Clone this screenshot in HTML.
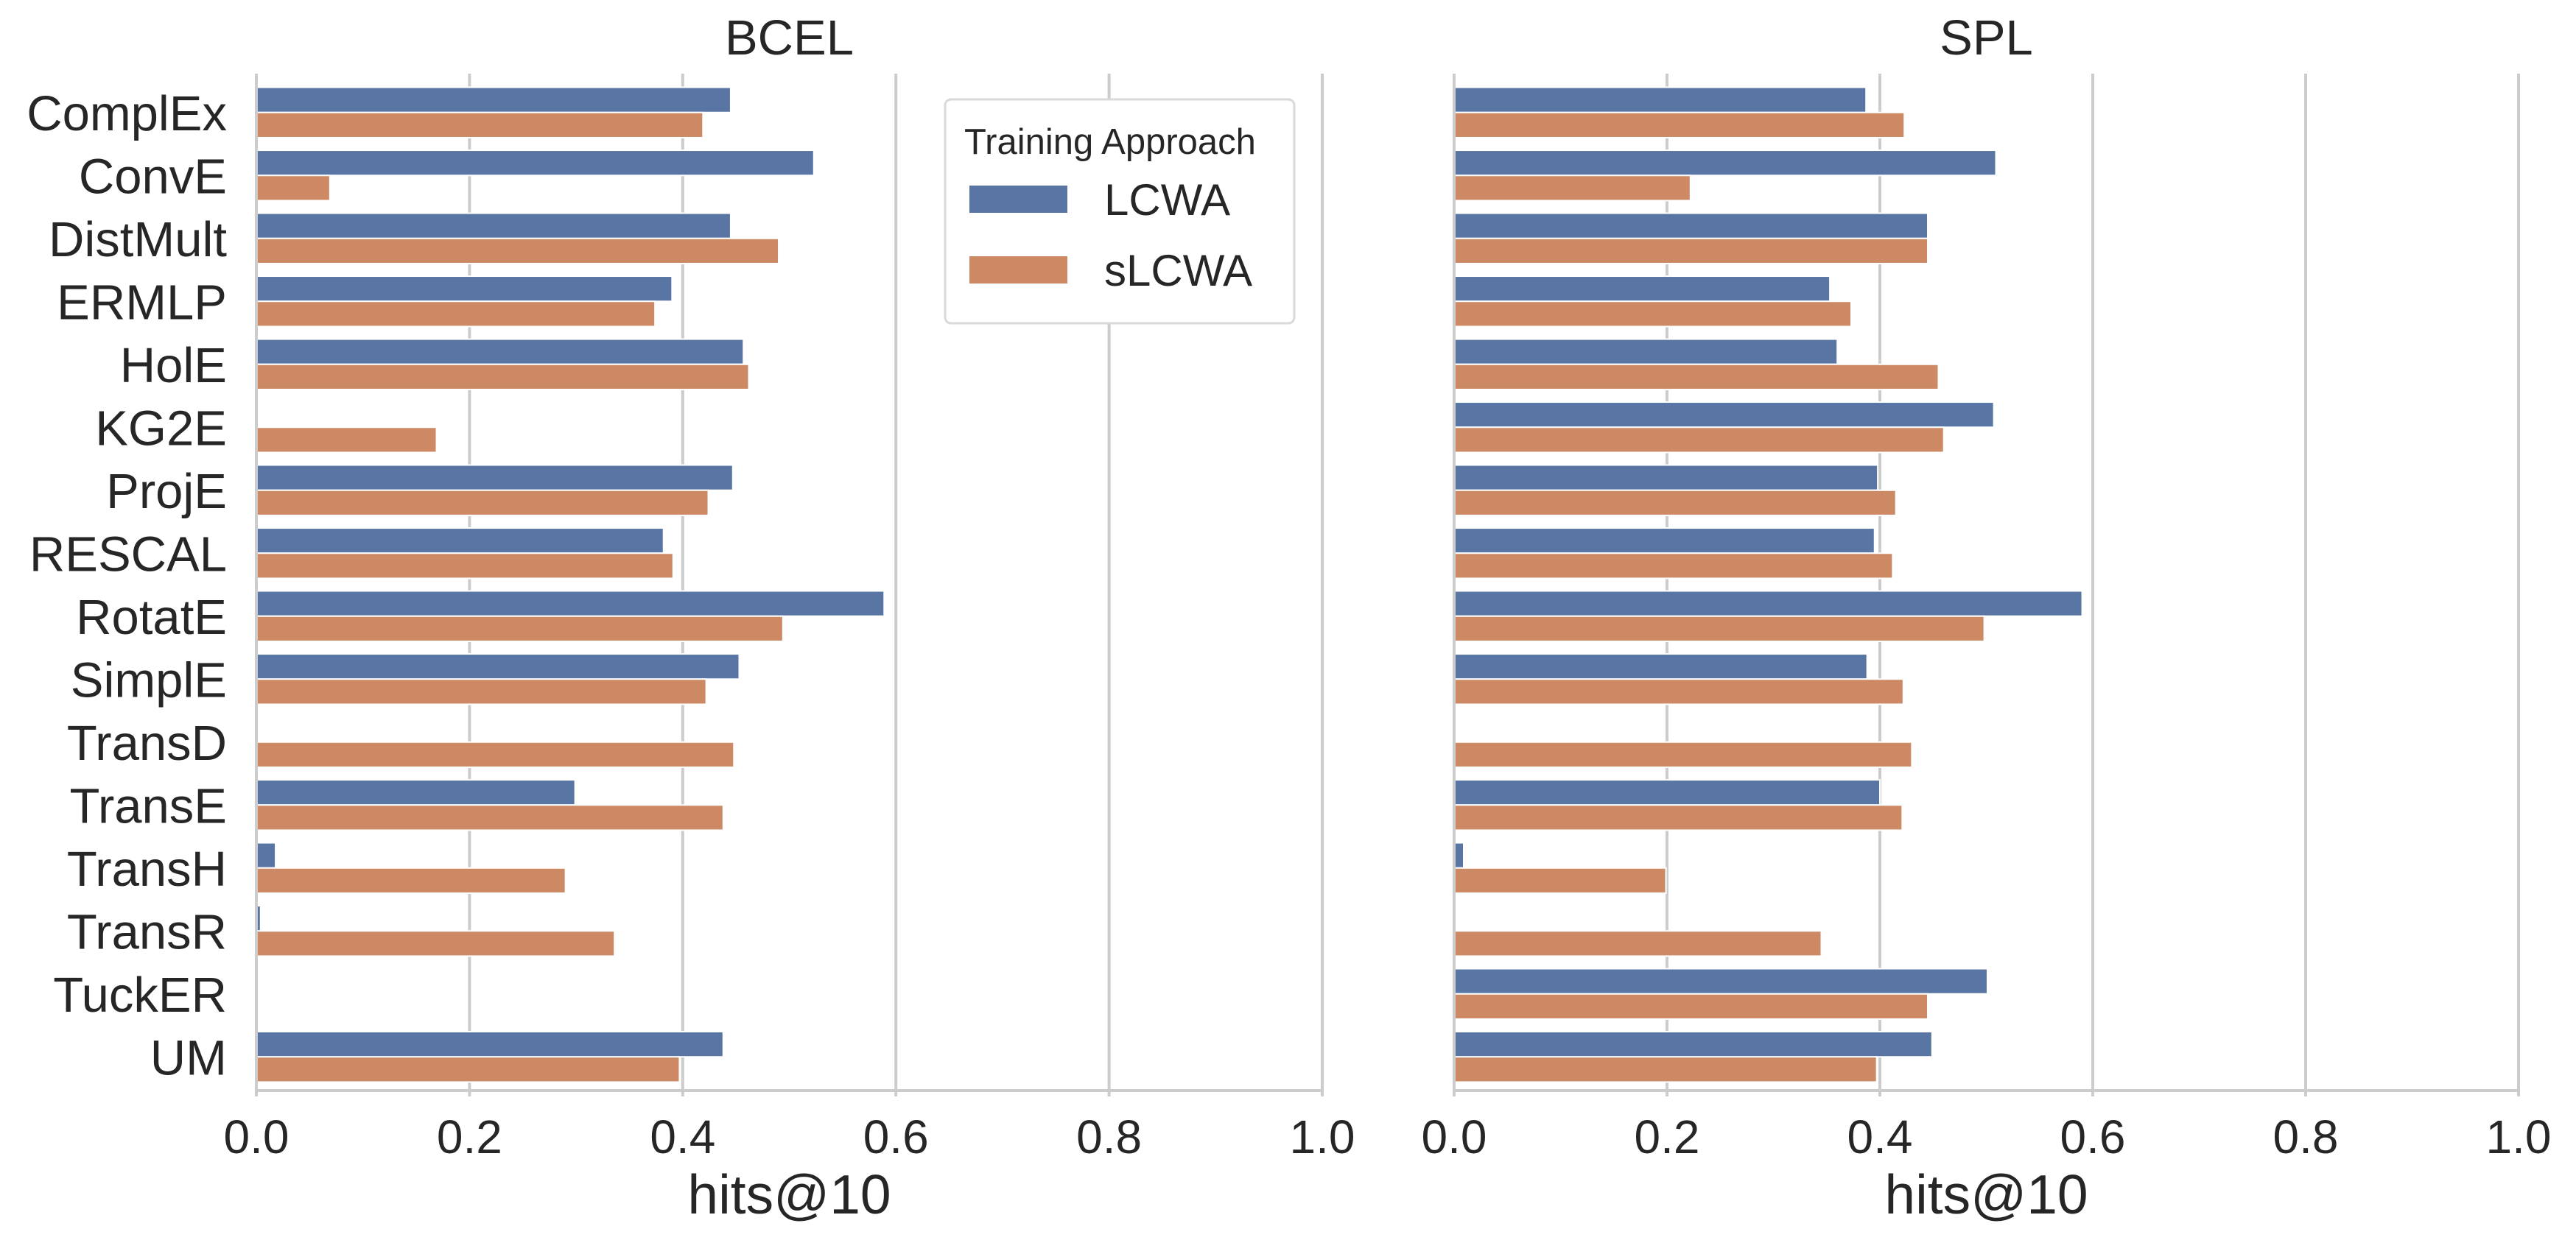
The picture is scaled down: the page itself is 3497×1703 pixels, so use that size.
<!DOCTYPE html>
<html><head><meta charset="utf-8"><style>
html,body{margin:0;padding:0;background:#fff}
svg{display:block;font-family:"Liberation Sans",Arial,sans-serif}
</style></head><body>
<svg id="chart" width="3497" height="1703" viewBox="0 0 3497 1703" xmlns="http://www.w3.org/2000/svg"></svg>
<script>
const categories=["ComplEx","ConvE","DistMult","ERMLP","HolE","KG2E","ProjE","RESCAL","RotatE","SimplE","TransD","TransE","TransH","TransR","TuckER","UM"];
const bcelLCWA=[0.445,0.523,0.445,0.390,0.457,null,0.447,0.382,0.589,0.453,null,0.299,0.018,0.004,null,0.438];
const bcelSLCWA=[0.419,0.069,0.490,0.374,0.462,0.169,0.424,0.391,0.494,0.422,0.448,0.438,0.290,0.336,null,0.397];
const splLCWA=[0.387,0.509,0.445,0.353,0.360,0.507,0.398,0.395,0.590,0.388,null,0.400,0.009,null,0.501,0.449];
const splSLCWA=[0.423,0.222,0.445,0.373,0.455,0.460,0.415,0.412,0.498,0.422,0.430,0.421,0.199,0.345,0.445,0.397];
const xTicks=[0,0.2,0.4,0.6,0.8,1.0];
const xTickLabels=["0.0","0.2","0.4","0.6","0.8","1.0"];
const seriesNames=["LCWA","sLCWA"];
const colors=["#5875a4","#cc8963"];
const svg=document.getElementById('chart');
const NS="http://www.w3.org/2000/svg";
function mk(tag,attrs,parent){const e=document.createElementNS(NS,tag);for(const k in attrs)e.setAttribute(k,attrs[k]);(parent||svg).appendChild(e);return e;}
const plotTop=110,plotBottom=1478,gridTop=100,axisY=1481;
const band=(plotBottom-plotTop)/categories.length;
function yScale(i){return plotTop+band*(i+0.5);}
const panels=[{title:"BCEL",x0:348,x1:1795,data:[bcelLCWA,bcelSLCWA],labels:true},{title:"SPL",x0:1974,x1:3419,data:[splLCWA,splSLCWA],labels:false}];
panels.forEach((p,pi)=>{
  const g=mk('g',{});
  
  
  const xs=v=>p.x0+(p.x1-p.x0)*v;
  xTicks.forEach((t,ti)=>{
    if(t>0){const l=mk('line',{x1:xs(t),x2:xs(t),y1:gridTop,y2:axisY,stroke:'#cccccc','stroke-width':4},g);
      
      }
    const tk=mk('line',{x1:xs(t),x2:xs(t),y1:axisY,y2:axisY+8,stroke:'#cccccc','stroke-width':4},g);
    
    
    const tl=mk('text',{x:xs(t),y:1566,'font-size':64,fill:'#262626','text-anchor':'middle'},g);
    tl.textContent=xTickLabels[ti];
    
    
  });
  const h=band*0.4;
  p.data.forEach((ser,si)=>{
    ser.forEach((v,i)=>{
      if(v===null)return;
      const y=yScale(i)-band*0.4+si*h;
      const r=mk('rect',{x:xs(0),y:y,width:xs(v)-xs(0),height:h,fill:colors[si],stroke:'#ffffff','stroke-width':2},g);
      
      
    });
  });
  const la=mk('line',{x1:p.x0,x2:p.x0,y1:gridTop,y2:axisY+2,stroke:'#cccccc','stroke-width':4},g);
  
  
  const ba=mk('line',{x1:p.x0-2,x2:p.x1+2,y1:axisY,y2:axisY,stroke:'#cccccc','stroke-width':4},g);
  
  
  if(p.labels){categories.forEach((c,i)=>{
    const t=mk('text',{x:308,y:yScale(i)+24,'font-size':67,fill:'#262626','text-anchor':'end'},g);
    t.textContent=c;
    
    
  });}
  const tt=mk('text',{x:(p.x0+p.x1)/2,y:74,'font-size':67,fill:'#262626','text-anchor':'middle'},g);
  tt.textContent=p.title;
  
  
  const xl=mk('text',{x:(p.x0+p.x1)/2,y:1648,'font-size':75,fill:'#262626','text-anchor':'middle'},g);
  xl.textContent="hits@10";
  
  
});
const lg=mk('g',{});


mk('rect',{x:1283,y:135,width:474,height:304,rx:8,fill:'#ffffff',stroke:'#d9d9d9','stroke-width':3},lg);
const lt=mk('text',{x:1507,y:209,'font-size':49,fill:'#262626','text-anchor':'middle'},lg);
lt.textContent="Training Approach";


seriesNames.forEach((n,i)=>{
  const y=i===0?252:348;
  const r=mk('rect',{x:1316,y:y,width:133,height:37,fill:colors[i]},lg);
  
  
  const t=mk('text',{x:1499,y:y+40,'font-size':60,fill:'#262626'},lg);
  t.textContent=n;
  
  
});
</script>
</body></html>
